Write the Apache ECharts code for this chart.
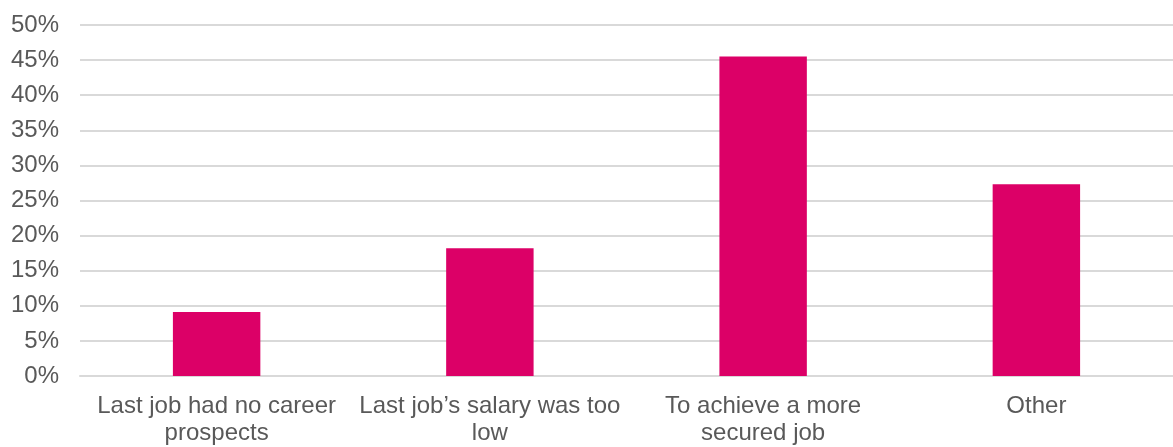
<!DOCTYPE html>
<html>
<head>
<meta charset="utf-8">
<script src="https://cdn.jsdelivr.net/npm/echarts@6/dist/echarts.min.js"></script>
<style>
  html, body { margin: 0; padding: 0; background: #fff; }
  #chart { width: 1173px; height: 447px; }
</style>
</head>
<body>
<div id="chart"></div>
<script>
// Reasons for leaving the last job (share of respondents)
const categories = [
  'Last job had no career\nprospects',
  'Last job\u2019s salary was too\nlow',
  'To achieve a more\nsecured job',
  'Other'
];
const shares = [0.091, 0.182, 0.455, 0.273];
const yTicks = { min: 0, max: 0.5, interval: 0.05 };

const textColor = '#595959';
const gridColor = '#d9d9d9';
const barColor = '#dc0067';
const fontFamily = '"Liberation Sans", Arial, sans-serif';

const chart = echarts.init(document.getElementById('chart'));
chart.setOption({
  animation: false,
  grid: { left: 80, right: 0, top: 25, bottom: 68 },
  xAxis: {
    type: 'category',
    data: categories,
    axisLine: { show: true, lineStyle: { color: gridColor, width: 2 } },
    axisTick: { show: false },
    axisLabel: {
      color: textColor,
      fontFamily: fontFamily,
      fontSize: 24,
      lineHeight: 27,
      margin: 17,
      interval: 0
    }
  },
  yAxis: {
    type: 'value',
    min: yTicks.min,
    max: yTicks.max,
    interval: yTicks.interval,
    axisLine: { show: false },
    axisTick: { show: false },
    splitLine: { lineStyle: { color: gridColor, width: 2 } },
    axisLabel: {
      color: textColor,
      fontFamily: fontFamily,
      fontSize: 24,
      margin: 21,
      formatter: v => Math.round(v * 100) + '%'
    }
  },
  series: [{
    type: 'bar',
    data: shares,
    barWidth: '32%',
    itemStyle: { color: barColor }
  }]
});
</script>
</body>
</html>
